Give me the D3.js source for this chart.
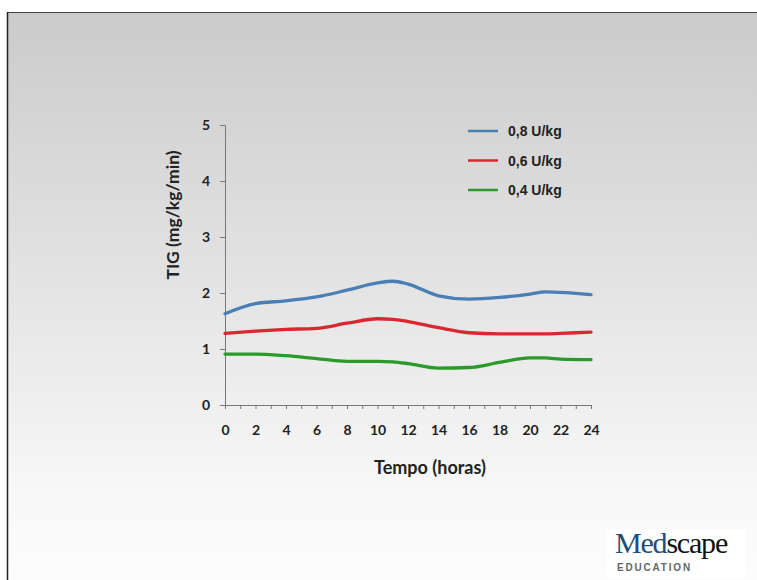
<!DOCTYPE html>
<html>
<head>
<meta charset="utf-8">
<script src="https://cdn.jsdelivr.net/npm/d3@7/dist/d3.min.js"></script>
<style>
  html, body { margin: 0; padding: 0; background: #fff; }
  svg { display: block; }
</style>
</head>
<body>
<svg id="chart" width="757" height="580"></svg>
<script>
// Hours sampled along the x axis
const hours = [0, 2, 4, 6, 8, 10, 11, 12, 14, 16, 18, 20, 21, 22, 24];

// Glucose infusion rate (TIG, mg/kg/min) per insulin dose
const dose08 = [1.63, 1.81, 1.86, 1.93, 2.05, 2.18, 2.21, 2.16, 1.95, 1.89, 1.92, 1.98, 2.02, 2.01, 1.97];
const dose06 = [1.28, 1.32, 1.35, 1.37, 1.46, 1.54, 1.53, 1.49, 1.38, 1.29, 1.27, 1.27, 1.27, 1.28, 1.30];
const dose04 = [0.91, 0.91, 0.88, 0.83, 0.78, 0.78, 0.77, 0.74, 0.66, 0.67, 0.76, 0.84, 0.84, 0.82, 0.81];

const seriesNames = ["0,8 U/kg", "0,6 U/kg", "0,4 U/kg"];
const seriesColors = ["#4a7fb5", "#d62a30", "#2a9a2a"];
const seriesValues = [dose08, dose06, dose04];

const yTicks = [0, 1, 2, 3, 4, 5];
const xTickLabels = [0, 2, 4, 6, 8, 10, 12, 14, 16, 18, 20, 22, 24];

const svg = d3.select("#chart");

// Slide background: gray-to-white vertical gradient inside a framed area
const defs = svg.append("defs");
const grad = defs.append("linearGradient")
  .attr("id", "bg").attr("x1", 0).attr("y1", 0).attr("x2", 0).attr("y2", 1);
grad.append("stop").attr("offset", "0%").attr("stop-color", "#cbcbcb");
grad.append("stop").attr("offset", "45%").attr("stop-color", "#e2e2e2");
grad.append("stop").attr("offset", "85%").attr("stop-color", "#f8f8f8");
grad.append("stop").attr("offset", "100%").attr("stop-color", "#fcfcfc");

svg.append("rect").attr("x", 0).attr("y", 0).attr("width", 757).attr("height", 580).attr("fill", "#fff");
svg.append("rect").attr("x", 7).attr("y", 13).attr("width", 750).attr("height", 567).attr("fill", "url(#bg)");
svg.append("line").attr("x1", 7).attr("x2", 757).attr("y1", 12.5).attr("y2", 12.5)
  .attr("stroke", "#444").attr("stroke-width", 1);
svg.append("line").attr("x1", 7.5).attr("x2", 7.5).attr("y1", 12).attr("y2", 580)
  .attr("stroke", "#222").attr("stroke-width", 1.5);

const x = d3.scaleLinear().domain([0, 24]).range([225, 591]);
const y = d3.scaleLinear().domain([0, 5]).range([405, 125]);

const axisColor = "#777";
const labelFont = "Lato, 'Open Sans', sans-serif";

// Y axis
const yAxis = svg.append("g").attr("transform", `translate(${x(0)},0)`)
  .call(d3.axisLeft(y).tickValues(yTicks).tickFormat(d3.format("d")).tickSize(5).tickPadding(10));
yAxis.select(".domain").attr("stroke", axisColor);
yAxis.selectAll(".tick line").attr("stroke", axisColor);
yAxis.selectAll("text").attr("fill", "#222").style("font", `bold 14px ${labelFont}`);

// X axis: a tick every hour, labels every two hours
const xAxis = svg.append("g").attr("transform", `translate(0,${y(0)})`)
  .call(d3.axisBottom(x).tickValues(d3.range(0, 25)).tickSizeOuter(0).tickSize(4).tickPadding(16)
    .tickFormat(d => xTickLabels.includes(d) ? d : ""));
xAxis.select(".domain").attr("stroke", axisColor);
xAxis.selectAll(".tick line").attr("stroke", axisColor);
xAxis.selectAll("text").attr("fill", "#222").style("font", `bold 14px ${labelFont}`);

// Axis titles
svg.append("text")
  .attr("transform", `translate(179,215) rotate(-90)`)
  .attr("text-anchor", "middle")
  .attr("fill", "#222")
  .style("font", `bold 17.5px ${labelFont}`)
  .text("TIG (mg/kg/min)");

svg.append("text")
  .attr("x", 430).attr("y", 474)
  .attr("text-anchor", "middle")
  .attr("fill", "#222")
  .style("font", `bold 18px ${labelFont}`)
  .text("Tempo (horas)");

// Smoothed lines
const line = d3.line()
  .x((d, i) => x(hours[i]))
  .y(d => y(d))
  .curve(d3.curveMonotoneX);

seriesValues.forEach((vals, k) => {
  svg.append("path")
    .datum(vals)
    .attr("fill", "none")
    .attr("stroke", seriesColors[k])
    .attr("stroke-width", 3.3)
    .attr("stroke-linecap", "round")
    .attr("d", line);
});

// Legend
const legend = svg.append("g");
seriesNames.forEach((name, k) => {
  const ly = 131 + k * 29.5;
  legend.append("line")
    .attr("x1", 468).attr("x2", 498).attr("y1", ly).attr("y2", ly)
    .attr("stroke", seriesColors[k]).attr("stroke-width", 2.5);
  legend.append("text")
    .attr("x", 508).attr("y", ly + 5)
    .attr("fill", "#222")
    .style("font", "bold 14px 'Liberation Sans', Arial, sans-serif")
    .text(name);
});

// Medscape Education logo
const logo = svg.append("g");
logo.append("rect").attr("x", 606).attr("y", 529).attr("width", 140).attr("height", 49).attr("fill", "#fff");
const word = logo.append("text")
  .attr("x", 615).attr("y", 553)
  .style("font", "30px 'Liberation Serif', 'Times New Roman', serif")
  .attr("letter-spacing", "-1.2");
word.append("tspan").attr("fill", "#1f4e7a").text("Med");
word.append("tspan").attr("fill", "#111").text("scape");
logo.append("text")
  .attr("x", 617).attr("y", 571)
  .attr("fill", "#666")
  .attr("letter-spacing", "1.8")
  .style("font", "bold 10px 'Liberation Sans', Arial, sans-serif")
  .text("EDUCATION");
</script>
</body>
</html>
